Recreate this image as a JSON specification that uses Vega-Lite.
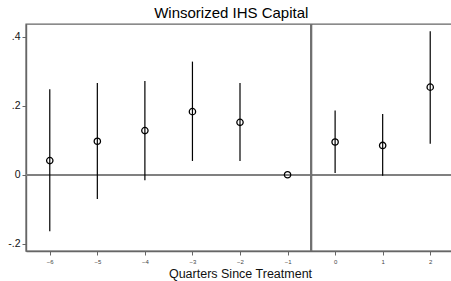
{
  "$schema": "https://vega.github.io/schema/vega-lite/v6.json",
  "autosize": "none",
  "padding": {"left": 26, "top": 24, "right": 0, "bottom": 30},
  "width": 428,
  "height": 227,
  "background": "white",
  "title": {"text": "Winsorized IHS Capital", "font": "Liberation Sans", "fontSize": 15, "fontWeight": "normal", "color": "#000", "offset": 2, "anchor": "middle", "frame": "bounds"},
  "config": {
    "view": {"stroke": "#666", "strokeWidth": 1.4},
    "axis": {"grid": false, "domainColor": "#666", "domainWidth": 1.4, "tickColor": "#666", "labelFont": "Liberation Sans", "titleFont": "Liberation Sans", "labelColor": "#111", "titleColor": "#111", "titleFontWeight": "normal"}
  },
  "data": {"values": [
    {"q": -6, "b": 0.041, "lo": -0.164, "hi": 0.248},
    {"q": -5, "b": 0.097, "lo": -0.070, "hi": 0.266},
    {"q": -4, "b": 0.128, "lo": -0.016, "hi": 0.272},
    {"q": -3, "b": 0.183, "lo": 0.040, "hi": 0.328},
    {"q": -2, "b": 0.152, "lo": 0.040, "hi": 0.266},
    {"q": -1, "b": 0.0, "lo": 0.0, "hi": 0.0},
    {"q": 0, "b": 0.095, "lo": 0.005, "hi": 0.186},
    {"q": 1, "b": 0.085, "lo": -0.003, "hi": 0.176},
    {"q": 2, "b": 0.254, "lo": 0.090, "hi": 0.416}
  ]},
  "encoding": {
    "x": {"field": "q", "type": "quantitative", "scale": {"domain": [-6.5, 2.5], "nice": false, "zero": false},
      "axis": {"values": [-6, -5, -4, -3, -2, -1, 0, 1, 2], "title": "Quarters Since Treatment", "titleFontSize": 12.5, "labelFontSize": 6, "labelColor": "#444", "tickSize": 4, "labelPadding": 3, "titlePadding": 3, "titleX": 214}}
  },
  "layer": [
    {"mark": {"type": "rule", "color": "#808080", "strokeWidth": 1.5}, "encoding": {"y": {"datum": 0, "type": "quantitative"}, "x": null}},
    {"mark": {"type": "rule", "color": "#707070", "strokeWidth": 1.4}, "encoding": {"x": {"datum": -0.5, "type": "quantitative"}}},
    {"mark": {"type": "rule", "color": "#000", "strokeWidth": 1.2},
     "encoding": {
       "y": {"field": "lo", "type": "quantitative", "scale": {"domain": [-0.221, 0.437], "nice": false, "zero": false},
         "axis": {"values": [-0.2, 0, 0.2, 0.4], "title": null, "labelFontSize": 10.5, "tickSize": 4, "labelPadding": 2,
           "labelExpr": "datum.value > 0.3 ? '.4' : datum.value > 0.1 ? '.2' : datum.value > -0.1 ? '0' : '-.2'"}},
       "y2": {"field": "hi"}
     }},
    {"mark": {"type": "point", "shape": "circle", "filled": false, "color": "#000", "strokeWidth": 1.3, "size": 40, "opacity": 1},
     "encoding": {"y": {"field": "b", "type": "quantitative"}}}
  ]
}
